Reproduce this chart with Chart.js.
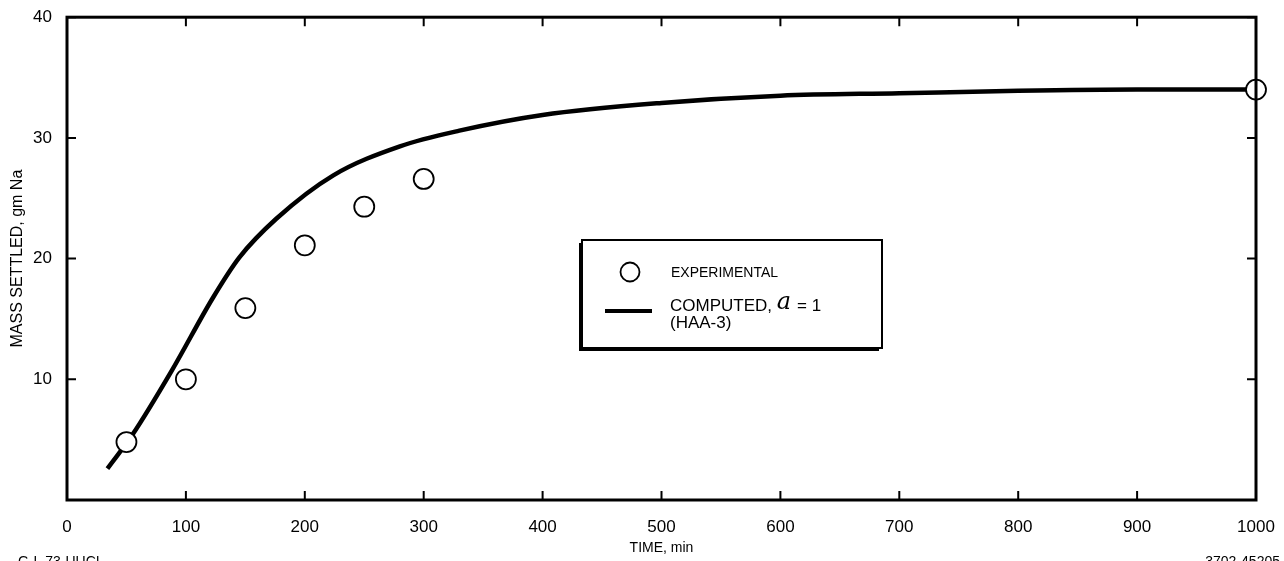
<!DOCTYPE html>
<html>
<head>
<meta charset="utf-8">
<script src="https://cdn.jsdelivr.net/npm/chart.js@4/dist/chart.umd.min.js"></script>
<style>
  html, body { margin: 0; padding: 0; background: #fff; }
  #wrap { width: 1284px; height: 561px; position: relative; }
</style>
</head>
<body>
<div id="wrap"><canvas id="chart" width="1284" height="561"></canvas></div>
<script>
// experimental points (time in min, mass in gm Na)
const expTime = [50, 100, 150, 200, 250, 300, 1000];
const expMass = [4.8, 10.0, 15.9, 21.1, 24.3, 26.6, 34.0];

// computed curve, alpha = 1 (HAA-3)
const compTime = [34, 55, 88, 123, 145, 176, 224, 280, 330, 400, 500, 600, 700, 800, 900, 1000];
const compMass = [2.6, 5.4, 10.7, 16.8, 20.1, 23.3, 26.9, 29.3, 30.6, 31.9, 32.9, 33.5, 33.7, 33.9, 34.0, 34.0];

const xTicks = [0, 100, 200, 300, 400, 500, 600, 700, 800, 900, 1000];
const yTicks = [10, 20, 30, 40];

const FONT = "'Liberation Sans', Arial, sans-serif";

// frame, inward ticks, legend box and corner notes
const framePlugin = {
    id: "frame",
    afterDatasetsDraw(chart) {
        const ctx = chart.ctx;
        const a = chart.chartArea;
        const xs = chart.scales.x;
        const ys = chart.scales.y;
        ctx.save();
        ctx.strokeStyle = "#000";
        ctx.lineWidth = 3;
        ctx.strokeRect(a.left, a.top, a.right - a.left, a.bottom - a.top);

        ctx.lineWidth = 2;
        ctx.beginPath();
        xTicks.forEach(v => {
            const px = xs.getPixelForValue(v);
            ctx.moveTo(px, a.bottom); ctx.lineTo(px, a.bottom - 9);
            ctx.moveTo(px, a.top); ctx.lineTo(px, a.top + 9);
        });
        yTicks.forEach(v => {
            const py = ys.getPixelForValue(v);
            ctx.moveTo(a.left, py); ctx.lineTo(a.left + 9, py);
            ctx.moveTo(a.right, py); ctx.lineTo(a.right - 9, py);
        });
        ctx.stroke();

        // legend box with shadow on left & bottom
        const bx = 582, by = 240, bw = 300, bh = 108;
        ctx.fillStyle = "#000";
        ctx.fillRect(bx - 3, by + 3, 4, bh);
        ctx.fillRect(bx - 3, by + bh - 1, bw, 4);
        ctx.fillStyle = "#fff";
        ctx.fillRect(bx, by, bw, bh);
        ctx.lineWidth = 2;
        ctx.strokeRect(bx, by, bw, bh);

        ctx.beginPath();
        ctx.arc(630, 272, 9.5, 0, Math.PI * 2);
        ctx.lineWidth = 1.8;
        ctx.stroke();

        ctx.beginPath();
        ctx.moveTo(605, 311); ctx.lineTo(652, 311);
        ctx.lineWidth = 4;
        ctx.stroke();

        ctx.fillStyle = "#000";
        ctx.textBaseline = "middle";
        ctx.textAlign = "left";
        ctx.font = "14px " + FONT;
        ctx.fillText("EXPERIMENTAL", 671, 273);
        ctx.font = "17px " + FONT;
        const label = "COMPUTED, ";
        ctx.fillText(label, 670, 306);
        let cx = 670 + ctx.measureText(label).width;
        ctx.font = "italic 24px 'DejaVu Serif', serif";
        ctx.fillText("a", cx, 303);
        cx += ctx.measureText("a").width + 6;
        ctx.font = "17px " + FONT;
        ctx.fillText("= 1", cx, 306);
        ctx.fillText("(HAA-3)", 670, 323);

        // corner notes (clipped at the bottom edge)
        ctx.font = "14px " + FONT;
        ctx.textBaseline = "top";
        ctx.fillText("G-L 73-UUCI", 18, 555);
        ctx.textAlign = "right";
        ctx.fillText("3702-45205", 1280, 555);
        ctx.restore();
    }
};

new Chart(document.getElementById("chart"), {
    type: "scatter",
    data: {
        datasets: [
            {
                label: "COMPUTED",
                data: compTime.map((t, i) => ({ x: t, y: compMass[i] })),
                showLine: true,
                borderColor: "#000",
                borderWidth: 4.5,
                pointRadius: 0,
                cubicInterpolationMode: "monotone",
                order: 2
            },
            {
                label: "EXPERIMENTAL",
                data: expTime.map((t, i) => ({ x: t, y: expMass[i] })),
                showLine: false,
                pointRadius: 10,
                pointBackgroundColor: "#fff",
                pointBorderColor: "#000",
                pointBorderWidth: 1.8,
                order: 1
            }
        ]
    },
    options: {
        responsive: false,
        animation: false,
        clip: false,
        layout: { padding: { left: 0, top: 16, right: 28, bottom: 0 } },
        plugins: { legend: { display: false }, tooltip: { enabled: false } },
        scales: {
            x: {
                type: "linear",
                min: 0,
                max: 1000,
                afterFit: s => { s.height = 61; },
                afterBuildTicks: s => { s.ticks = xTicks.map(v => ({ value: v })); },
                grid: { display: false },
                border: { display: false },
                ticks: { color: "#000", font: { family: FONT, size: 17 }, padding: 9, maxRotation: 0, callback: v => String(v) },
                title: { display: true, text: "TIME, min", color: "#000", font: { family: FONT, size: 14 }, padding: { top: 2 } }
            },
            y: {
                type: "linear",
                min: 0,
                max: 40,
                afterFit: s => { s.width = 67; },
                afterBuildTicks: s => { s.ticks = yTicks.map(v => ({ value: v })); },
                grid: { display: false },
                border: { display: false },
                ticks: { color: "#000", font: { family: FONT, size: 17 }, padding: 7, callback: v => String(v) },
                title: { display: true, text: "MASS SETTLED, gm Na", color: "#000", font: { family: FONT, size: 16 }, padding: { top: 8, bottom: 0 } }
            }
        }
    },
    plugins: [framePlugin]
});
</script>
</body>
</html>
